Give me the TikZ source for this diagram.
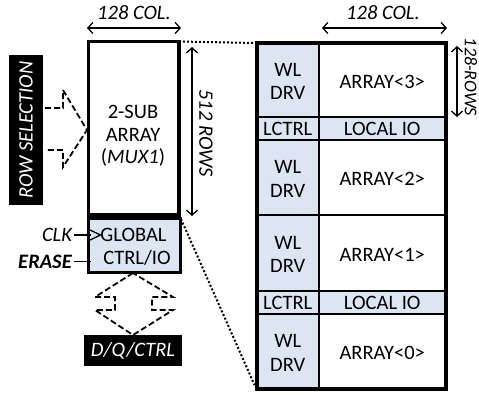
\documentclass[tikz,border=0pt]{standalone}
\usepackage{fontspec}
\setmainfont{Carlito}
\usetikzlibrary{arrows.meta}
\definecolor{lblue}{HTML}{DCE6F2}
\begin{document}
\begin{tikzpicture}[x=1pt,y=-1pt,
  txt/.style={font=\fontsize{20.5}{22.6}\selectfont, inner sep=0pt, align=center},
  celltxt/.style={font=\fontsize{20.5}{23.5}\selectfont, inner sep=0pt, align=center},
  cellbox/.style={draw, line width=2.7pt, inner sep=0pt, outer sep=0pt, anchor=north west},
  bluecell/.style={cellbox, fill=lblue},
  whitecell/.style={cellbox, fill=white},
  blackbox/.style={fill=black, text=white, inner sep=0pt, font=\fontsize{20.5}{22}\selectfont\itshape},
  dimarrow/.style={line width=1.3pt, {Straight Barb[length=5pt,width=11pt]}-{Straight Barb[length=5pt,width=11pt]}},
  blockarrow/.style={line width=1.8pt, dash pattern=on 6pt off 3pt},
  dotline/.style={line width=2pt, dash pattern=on 2pt off 2pt}
]
\useasboundingbox (0,0) rectangle (479,394);

% ---------- left sub-array ----------
\node[draw, line width=3.5pt, inner sep=0pt, outer sep=0pt, anchor=north west,
  minimum width=90.5pt, minimum height=173.5pt] (sub) at (88.5,41.5) {};
\node[txt, text depth=0pt] (subtxt) at (133,134.7) {2-SUB\\ARRAY\\(\textit{MUX1})};
\node[draw, line width=3pt, fill=lblue, inner sep=0pt, outer sep=0pt, anchor=north west,
  minimum width=91.5pt, minimum height=54.5pt] (gbox) at (88.5,218) {};
\node[txt] (gtxt1) at (133.5,235) {GLOBAL};
\node[txt] (gtxt2) at (137,258) {CTRL/IO};

% clock symbol
\draw[line width=1.3pt] (89,229.5) -- (100.5,235) -- (89,240.5);

% CLK and ERASE
\node[txt, font=\fontsize{20.5}{22}\selectfont\itshape] (clk) at (57,235) {CLK};
\node[txt, font=\fontsize{20.5}{22}\selectfont\bfseries\itshape] (erase) at (45,261.7) {ERASE};
\draw[line width=1.3pt] ([xshift=2pt]clk.east) -- ([xshift=2pt]clk.east -| gbox.west);
\draw[line width=1.3pt] ([xshift=2pt]erase.east) -- ([xshift=2pt]erase.east -| gbox.west);

% dimension arrows left
\coordinate (c1a) at (87,28);
\coordinate (c1b) at (181,28);
\draw[dimarrow] (c1a) -- (c1b);
\node[txt, font=\fontsize{20.5}{22}\selectfont\itshape] (col1) at (134,13) {128 COL.};

\coordinate (r1a) at (192,47);
\coordinate (r1b) at (192,216);
\draw[dimarrow] (r1a) -- (r1b);
\node[txt, font=\fontsize{20.5}{22}\selectfont\itshape, rotate=-90] (rows1) at (206,133) {512 ROWS};

% row selection
\node[blackbox, rotate=90, minimum width=150pt, minimum height=34pt] (rowsel) at (26,130) {ROW SELECTION};
\coordinate (l1) at (45,108);
\coordinate (l2) at (63,108);
\coordinate (l3) at (63,90);
\coordinate (l4) at (87,130);
\coordinate (l5) at (63,167);
\coordinate (l6) at (63,150);
\coordinate (l7) at (45,150);
\draw[blockarrow] (l1) -- (l2) -- (l3) -- (l4) -- (l5) -- (l6) -- (l7);

% D/Q/CTRL
\node[blackbox, minimum width=98pt, minimum height=31pt] (dq) at (133,350.5) {D/Q/CTRL};
\coordinate (d1) at (133,273);
\coordinate (d2) at (95,297);
\coordinate (d3) at (115,297);
\coordinate (d4) at (115,310);
\coordinate (d5) at (95,310);
\coordinate (d6) at (133,335);
\coordinate (d7) at (173,310);
\coordinate (d8) at (152,310);
\coordinate (d9) at (152,297);
\coordinate (d10) at (173,297);
\draw[blockarrow] (d1) -- (d2) -- (d3) -- (d4) -- (d5) -- (d6) -- (d7) -- (d8) -- (d9) -- (d10) -- cycle;

% ---------- right block ----------
\node[bluecell, minimum width=62.5pt, minimum height=74pt] (wl3) at (256.5,43) {};
\node[whitecell, minimum width=126.5pt, minimum height=74pt] (arr3) at (319,43) {};
\node[bluecell, minimum width=62.5pt, minimum height=23pt] (lc1) at (256.5,117) {};
\node[bluecell, minimum width=126.5pt, minimum height=23pt] (lio1) at (319,117) {};
\node[bluecell, minimum width=62.5pt, minimum height=75pt] (wl2) at (256.5,140) {};
\node[whitecell, minimum width=126.5pt, minimum height=75pt] (arr2) at (319,140) {};
\node[bluecell, minimum width=62.5pt, minimum height=76pt] (wl1) at (256.5,215) {};
\node[whitecell, minimum width=126.5pt, minimum height=76pt] (arr1) at (319,215) {};
\node[bluecell, minimum width=62.5pt, minimum height=23pt] (lc0) at (256.5,291) {};
\node[bluecell, minimum width=126.5pt, minimum height=23pt] (lio0) at (319,291) {};
\node[bluecell, minimum width=62.5pt, minimum height=75pt] (wl0) at (256.5,314) {};
\node[whitecell, minimum width=126.5pt, minimum height=75pt] (arr0) at (319,314) {};
\draw[line width=4pt] (wl3.north west) rectangle (arr0.south east);

% cell texts
\foreach \c in {wl3,wl2,wl1,wl0}
  \node[celltxt] (\c t) at ([yshift=-1.5pt]\c.center) {WL\\DRV};
\node[celltxt] (arr3t) at ([yshift=-1.5pt]arr3.center) {ARRAY<3>};
\node[celltxt] (arr2t) at ([yshift=-1pt]arr2.center) {ARRAY<2>};
\node[celltxt] (arr1t) at ([yshift=-1.5pt]arr1.center) {ARRAY<1>};
\node[celltxt] (arr0t) at ([yshift=-1.5pt]arr0.center) {ARRAY<0>};
\node[celltxt] (lc1t) at (lc1.center) {LCTRL};
\node[celltxt] (lio1t) at (lio1.center) {LOCAL IO};
\node[celltxt] (lc0t) at (lc0.center) {LCTRL};
\node[celltxt] (lio0t) at (lio0.center) {LOCAL IO};

% right dimension arrows
\coordinate (c2a) at (322,28);
\coordinate (c2b) at (447,28);
\draw[dimarrow] (c2a) -- (c2b);
\node[txt, font=\fontsize{20.5}{22}\selectfont\itshape] (col2) at (383,13) {128 COL.};
\coordinate (r2a) at (457,46);
\coordinate (r2b) at (457,117);
\draw[dimarrow] (r2a) -- (r2b);
\node[txt, font=\fontsize{18}{19}\selectfont\itshape, rotate=-90] (rows2) at (471,77) {128-ROWS};

% dotted zoom lines
\draw[dotline] (sub.north east) -- (wl3.north west);
\draw[dotline] ([shift={(2,4)}]sub.south east) -- ([shift={(-2,-4)}]wl0.south west);
\end{tikzpicture}
\end{document}
